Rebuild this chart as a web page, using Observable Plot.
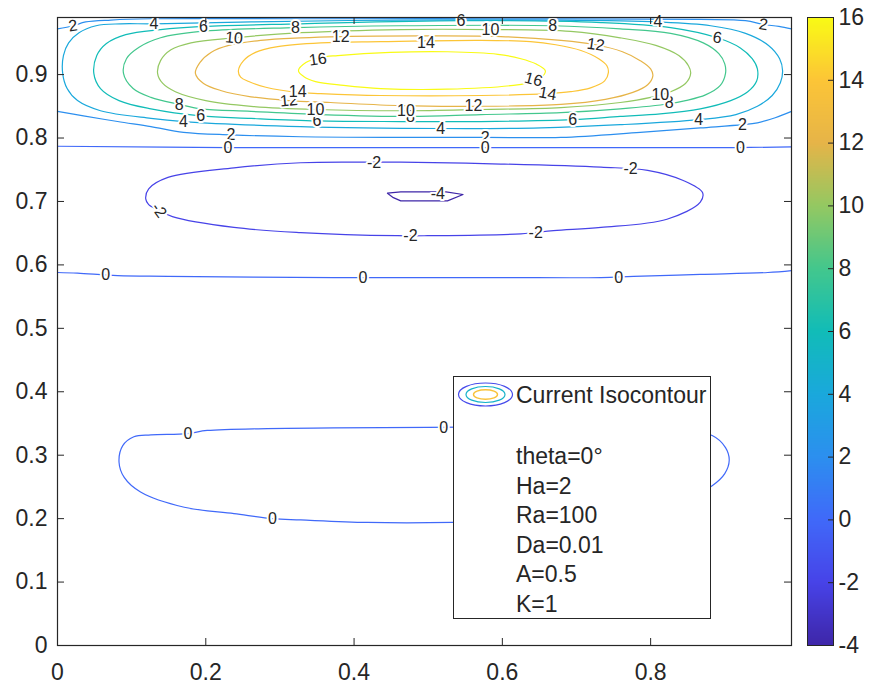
<!DOCTYPE html>
<html><head><meta charset="utf-8">
<script src="https://cdn.jsdelivr.net/npm/d3@7"></script>
<script src="https://cdn.jsdelivr.net/npm/@observablehq/plot@0.6"></script>
<style>
body{margin:0;background:#fff;}
#wrap{position:relative;width:869px;height:686px;background:#fff;font-family:"Liberation Sans",Arial,sans-serif;color:#262626;overflow:hidden;}
#wrap > svg, #wrap > figure{position:absolute;top:0;margin:0;}
#legend{position:absolute;left:453px;top:376px;width:258px;height:243px;box-sizing:border-box;border:1px solid #262626;background:#fff;}
#legend .ttl{position:absolute;left:62px;top:7px;font-size:23px;line-height:23px;white-space:nowrap;}
#legend .params{position:absolute;left:62px;top:65px;font-size:23px;line-height:29.5px;white-space:nowrap;}
#legend svg{position:absolute;left:3px;top:4px;}
</style></head><body><div id="wrap"></div>
<script>
// ---------- data ----------
const xTicks = [0, 0.2, 0.4, 0.6, 0.8];
const yTicks = [0, 0.1, 0.2, 0.3, 0.4, 0.5, 0.6, 0.7, 0.8, 0.9];
const cbTicks = [-4, -2, 0, 2, 4, 6, 8, 10, 12, 14, 16];
const colorLimits = [-4, 16];
const legendTitle = "Current Isocontour";
const legendParams = ["theta=0°", "Ha=2", "Ra=100", "Da=0.01", "A=0.5", "K=1"];

// closed iso-lines (x, y)
const loop16 = [[0.325,0.906],[0.335,0.919],[0.355,0.927],[0.378,0.930],[0.449,0.935],[0.526,0.936],[0.594,0.932],[0.625,0.925],[0.645,0.917],[0.658,0.906],[0.652,0.895],[0.634,0.887],[0.615,0.883],[0.526,0.877],[0.436,0.878],[0.386,0.883],[0.348,0.889],[0.332,0.897]];
const loop14 = [[0.244,0.906],[0.251,0.922],[0.267,0.935],[0.297,0.944],[0.355,0.950],[0.436,0.952],[0.571,0.954],[0.638,0.952],[0.672,0.947],[0.706,0.938],[0.730,0.925],[0.741,0.914],[0.743,0.903],[0.738,0.890],[0.719,0.879],[0.692,0.873],[0.661,0.870],[0.571,0.867],[0.436,0.867],[0.355,0.870],[0.324,0.872],[0.281,0.880],[0.258,0.889],[0.247,0.896]];
const loop12 = [[0.186,0.902],[0.192,0.919],[0.207,0.935],[0.231,0.946],[0.274,0.954],[0.328,0.958],[0.382,0.960],[0.490,0.961],[0.598,0.960],[0.679,0.954],[0.726,0.947],[0.762,0.936],[0.786,0.922],[0.800,0.909],[0.803,0.898],[0.796,0.884],[0.776,0.872],[0.739,0.861],[0.679,0.853],[0.561,0.850],[0.463,0.851],[0.368,0.856],[0.312,0.859],[0.261,0.865],[0.220,0.875],[0.197,0.886]];
const loop10 = [[0.135,0.902],[0.139,0.922],[0.153,0.939],[0.180,0.950],[0.238,0.958],[0.328,0.966],[0.463,0.971],[0.584,0.971],[0.692,0.968],[0.759,0.958],[0.807,0.946],[0.838,0.930],[0.851,0.914],[0.854,0.902],[0.847,0.886],[0.827,0.873],[0.800,0.864],[0.759,0.856],[0.679,0.848],[0.571,0.845],[0.470,0.843],[0.348,0.845],[0.261,0.850],[0.200,0.859],[0.159,0.873],[0.142,0.886]];
const loop8 = [[0.089,0.902],[0.093,0.925],[0.110,0.943],[0.139,0.958],[0.193,0.968],[0.321,0.974],[0.463,0.977],[0.668,0.977],[0.759,0.972],[0.827,0.965],[0.871,0.950],[0.892,0.933],[0.900,0.917],[0.901,0.902],[0.894,0.883],[0.874,0.868],[0.847,0.859],[0.825,0.854],[0.759,0.846],[0.679,0.840],[0.571,0.837],[0.476,0.834],[0.355,0.837],[0.261,0.842],[0.193,0.846],[0.164,0.853],[0.126,0.864],[0.102,0.878]];
const loop6 = [[0.049,0.902],[0.053,0.930],[0.066,0.949],[0.092,0.963],[0.139,0.971],[0.197,0.976],[0.328,0.980],[0.544,0.985],[0.733,0.982],[0.827,0.974],[0.890,0.958],[0.921,0.942],[0.937,0.925],[0.944,0.909],[0.943,0.890],[0.931,0.873],[0.908,0.859],[0.867,0.846],[0.813,0.838],[0.759,0.834],[0.695,0.829],[0.571,0.826],[0.463,0.826],[0.350,0.827],[0.261,0.831],[0.193,0.835],[0.126,0.846],[0.083,0.859],[0.058,0.878]];
const loop4 = [[0.007,0.902],[0.008,0.930],[0.015,0.950],[0.029,0.966],[0.052,0.977],[0.085,0.980],[0.130,0.980],[0.261,0.983],[0.463,0.986],[0.665,0.986],[0.810,0.983],[0.881,0.977],[0.928,0.965],[0.959,0.946],[0.974,0.925],[0.978,0.906],[0.975,0.887],[0.964,0.867],[0.944,0.850],[0.915,0.837],[0.865,0.829],[0.759,0.821],[0.652,0.816],[0.517,0.815],[0.328,0.818],[0.170,0.826],[0.126,0.831],[0.058,0.843],[0.027,0.859],[0.013,0.878]];
const loopNeg2 = [[0.119,0.704],[0.123,0.720],[0.149,0.738],[0.238,0.753],[0.328,0.761],[0.405,0.762],[0.463,0.762],[0.598,0.759],[0.733,0.754],[0.796,0.749],[0.844,0.733],[0.870,0.714],[0.867,0.699],[0.822,0.672],[0.733,0.659],[0.669,0.654],[0.625,0.649],[0.499,0.646],[0.458,0.646],[0.328,0.651],[0.238,0.659],[0.155,0.676],[0.137,0.686],[0.123,0.695]];
const loopNeg4 = [[0.445,0.713],[0.463,0.715],[0.490,0.715],[0.524,0.715],[0.547,0.711],[0.526,0.701],[0.490,0.701],[0.463,0.701],[0.453,0.706]];
const loopZeroLow = [[0.083,0.289],[0.088,0.315],[0.103,0.329],[0.126,0.332],[0.175,0.334],[0.202,0.339],[0.283,0.342],[0.373,0.343],[0.499,0.344],[0.598,0.344],[0.733,0.342],[0.840,0.339],[0.883,0.331],[0.901,0.312],[0.906,0.292],[0.900,0.271],[0.883,0.252],[0.854,0.236],[0.800,0.221],[0.733,0.206],[0.625,0.197],[0.533,0.194],[0.418,0.194],[0.328,0.198],[0.290,0.200],[0.238,0.208],[0.171,0.218],[0.112,0.242],[0.090,0.265]];

// open iso-lines running from wall to wall
const line2Top = [[0,0.972],[0.021,0.977],[0.038,0.983],[0.072,0.986],[0.126,0.988],[0.328,0.988],[0.598,0.988],[0.867,0.987],[0.928,0.985],[0.952,0.979],[0.973,0.976],[0.990,0.972]];
const line2Bottom = [[0,0.842],[0.035,0.835],[0.081,0.826],[0.126,0.818],[0.170,0.809],[0.234,0.805],[0.328,0.802],[0.463,0.801],[0.577,0.801],[0.679,0.801],[0.786,0.809],[0.867,0.816],[0.924,0.821],[0.944,0.824],[0.968,0.832],[0.990,0.842]];
const line0Upper = [[0,0.787],[0.230,0.785],[0.577,0.785],[0.921,0.785],[0.990,0.786]];
const line0Middle = [[0,0.588],[0.027,0.587],[0.081,0.583],[0.149,0.582],[0.373,0.580],[0.463,0.580],[0.598,0.580],[0.733,0.580],[0.777,0.582],[0.867,0.585],[0.958,0.588],[0.990,0.591]];

// contour labels: level, x, y, tilt
const contourLabels = [
 [2,0.021,0.977,-8],[2,0.234,0.805,0],[2,0.577,0.801,0],[2,0.924,0.821,0],[2,0.952,0.979,8],
 [4,0.130,0.980,0],[4,0.170,0.826,0],[4,0.517,0.815,0],[4,0.810,0.983,0],[4,0.865,0.829,0],
 [6,0.197,0.976,0],[6,0.193,0.835,0],[6,0.350,0.827,0],[6,0.544,0.985,0],[6,0.695,0.829,0],[6,0.890,0.958,10],
 [8,0.321,0.974,0],[8,0.164,0.853,0],[8,0.476,0.834,0],[8,0.668,0.977,0],[8,0.825,0.855,0],
 [10,0.238,0.958,5],[10,0.348,0.845,0],[10,0.470,0.843,0],[10,0.584,0.971,0],[10,0.813,0.868,0],
 [12,0.382,0.960,0],[12,0.312,0.859,-5],[12,0.561,0.850,0],[12,0.726,0.947,8],
 [14,0.497,0.950,0],[14,0.324,0.872,0],[14,0.661,0.870,10],
 [16,0.351,0.924,-8],[16,0.642,0.892,15],
 [0,0.230,0.785,0],[0,0.577,0.785,0],[0,0.921,0.785,0],[0,0.065,0.585,0],[0,0.412,0.580,0],[0,0.757,0.580,0],[0,0.176,0.333,0],[0,0.521,0.343,0],[0,0.290,0.199,0],
 [-2,0.427,0.761,0],[-2,0.773,0.752,0],[-2,0.645,0.651,0],[-2,0.476,0.645,0],[-2,0.137,0.686,55],
 [-4,0.513,0.712,0]
];

// ---------- styles ----------
const parulaStops = ["#3e26a8","#4743e8","#4069f9","#2c8fef","#1aa8dc","#11bcb8","#43c78d","#94c862","#e6b448","#fcc537","#f9fb15"];
const parula = d3.piecewise(d3.interpolateRgb, parulaStops);
const colorScale = {type: "linear", domain: colorLimits, interpolate: parula};
const ink = "#262626";
const W = 869, H = 686, mL = 57, mR = 78, mT = 17, mB = 41;
const innerW = W - mL - mR, innerH = H - mT - mB, tickLen = 7;

// ---------- build tables ----------
const closedSets = [[16,loop16],[14,loop14],[12,loop12],[10,loop10],[8,loop8],[6,loop6],[4,loop4],[-2,loopNeg2],[0,loopZeroLow]];
const openSets = [[2,line2Top],[2,line2Bottom],[0,line0Upper],[0,line0Middle]];
const closedRows = closedSets.flatMap(([level, pts], i) => pts.map(([x, y]) => ({id: i, level, x, y})));
const openRows = openSets.flatMap(([level, pts], i) => pts.map(([x, y]) => ({id: i, level, x, y})));
const smallRows = loopNeg4.map(([x, y]) => ({id: 0, level: -4, x, y}));
const labelRows = contourLabels.map(([level, x, y, r]) => ({level, x, y, r}));

const main = Plot.plot({
  width: W, height: H,
  marginLeft: mL, marginRight: mR, marginTop: mT, marginBottom: mB,
  style: {fontFamily: "'Liberation Sans', Arial, sans-serif", fontSize: "23px", color: ink, background: "transparent"},
  x: {domain: [0, 0.99]},
  y: {domain: [0, 0.99]},
  color: colorScale,
  marks: [
    Plot.line(closedRows, {x: "x", y: "y", z: "id", stroke: "level", strokeWidth: 1.2, curve: "catmull-rom-closed"}),
    Plot.line(smallRows, {x: "x", y: "y", z: "id", stroke: "level", strokeWidth: 1.2, curve: "linear-closed"}),
    Plot.line(openRows, {x: "x", y: "y", z: "id", stroke: "level", strokeWidth: 1.2, curve: "catmull-rom"}),
    Plot.text(labelRows, {x: "x", y: "y", text: d => String(d.level), rotate: "r", fontSize: 16, fill: ink, stroke: "white", strokeWidth: 4, paintOrder: "stroke"}),
    Plot.frame({stroke: ink, strokeWidth: 1.2}),
    Plot.ruleX(xTicks, {x: d => d, insetTop: innerH - tickLen, stroke: ink}),
    Plot.ruleX(xTicks, {x: d => d, insetBottom: innerH - tickLen, stroke: ink}),
    Plot.ruleY(yTicks, {y: d => d, insetRight: innerW - tickLen, stroke: ink}),
    Plot.ruleY(yTicks, {y: d => d, insetLeft: innerW - tickLen, stroke: ink}),
    Plot.axisX(xTicks, {anchor: "bottom", tickSize: 0, tickPadding: 18, tickFormat: d => String(d), label: null}),
    Plot.axisY(yTicks, {anchor: "left", tickSize: 0, tickPadding: 10, tickFormat: d => String(d), label: null})
  ]
});
main.style.left = "0px";

const cbW = 79, cbL = 17, cbR = 36;
const colorbar = Plot.plot({
  width: cbW, height: H,
  marginLeft: cbL, marginRight: cbR, marginTop: mT, marginBottom: mB,
  style: {fontFamily: "'Liberation Sans', Arial, sans-serif", fontSize: "23px", color: ink, background: "transparent"},
  x: {domain: [0, 1], axis: null},
  y: {domain: colorLimits, axis: null},
  color: colorScale,
  marks: [
    Plot.raster({fill: (x, y) => y, x1: 0, x2: 1, y1: colorLimits[0], y2: colorLimits[1], width: 2, height: 600}),
    Plot.frame({stroke: ink, strokeWidth: 1}),
    Plot.ruleY(cbTicks, {y: d => d, insetLeft: (cbW - cbL - cbR) - 5, stroke: ink}),
    Plot.axisY(cbTicks, {anchor: "right", tickSize: 0, tickPadding: 5, tickFormat: d => String(d), label: null})
  ]
});
colorbar.style.left = "790px";

const wrap = document.getElementById("wrap");
wrap.appendChild(main);
wrap.appendChild(colorbar);

// legend box
const legend = document.createElement("div");
legend.id = "legend";
const icon = `<svg width="58" height="28" viewBox="0 0 58 28">
  <ellipse cx="28.5" cy="13.5" rx="27" ry="11.5" fill="none" stroke="${parula(0.12)}" stroke-width="1.2"/>
  <ellipse cx="28.5" cy="13.5" rx="19.5" ry="8" fill="none" stroke="${parula(0.45)}" stroke-width="1.2"/>
  <ellipse cx="28.5" cy="13.5" rx="12" ry="4.8" fill="none" stroke="${parula(0.88)}" stroke-width="1.4"/>
</svg>`;
legend.innerHTML = icon + `<div class="ttl"></div><div class="params"></div>`;
legend.querySelector(".ttl").textContent = legendTitle;
const params = legend.querySelector(".params");
legendParams.forEach(s => { const d = document.createElement("div"); d.textContent = s; params.appendChild(d); });
wrap.appendChild(legend);
</script>
</body></html>
